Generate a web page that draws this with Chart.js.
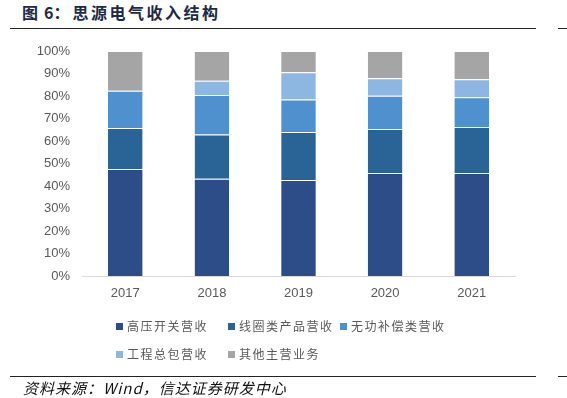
<!DOCTYPE html>
<html>
<head>
<meta charset="utf-8">
<script src="https://cdn.jsdelivr.net/npm/chart.js@4.4.1/dist/chart.umd.min.js"></script>
<style>
  html, body { margin: 0; padding: 0; background: #fff; }
  #wrap { position: relative; width: 567px; height: 398px; overflow: hidden; }
  #chart { position: absolute; left: 0; top: 0; }
  .title { position: absolute; left: 22px; top: 0px; font: bold 16px "Noto Sans CJK SC", sans-serif; color: #1c2a48; letter-spacing: 2.5px; white-space: nowrap; }
  .title span { letter-spacing: 0; margin-right: 3px; }
  .title b { display: inline-block; width: 6px; }
  .rule { position: absolute; height: 1px; background: #222; }
  .source { position: absolute; left: 23px; top: 377px; font: italic 15px "Noto Sans CJK SC", "Liberation Sans", sans-serif; color: #111; letter-spacing: 1px; }
  .legend-item { position: absolute; font: 12px "Noto Sans CJK SC", sans-serif; color: #595959; letter-spacing: 1.5px; white-space: nowrap; line-height: 16px; }
  .legend-item i { display: inline-block; width: 7px; height: 7px; margin-right: 4px; vertical-align: 1px; }
</style>
</head>
<body>
<div id="wrap">
  <div class="title"><span>图<b></b>6：</span>思源电气收入结构</div>
  <div class="rule" style="left:10px; top:28px; width:526px;"></div>
  <div class="rule" style="left:558px; top:28px; width:9px;"></div>
  <canvas id="chart" width="567" height="398"></canvas>
  <div id="legend"></div>
  <div class="rule" style="left:10px; top:376px; width:526px;"></div>
  <div class="rule" style="left:558px; top:376px; width:9px;"></div>
  <div class="source">资料来源：Wind，信达证券研发中心</div>
</div>
<script>
// 年份
const years = ['2017', '2018', '2019', '2020', '2021'];

// 各业务营收占比 (%)
const highVoltage = [47.6, 43.2, 42.7, 45.8, 45.8];   // 高压开关营收
const coilProducts = [18.2, 19.7, 21.3, 19.5, 20.4];  // 线圈类产品营收
const reactiveComp = [16.5, 17.5, 14.4, 14.8, 13.3];  // 无功补偿类营收
const engineering = [0, 6.4, 12.2, 7.8, 7.9];         // 工程总包营收
const otherBiz = [17.7, 13.2, 9.4, 12.1, 12.6];       // 其他主营业务

const yTicks = [0, 10, 20, 30, 40, 50, 60, 70, 80, 90, 100];

const seriesNames = ['高压开关营收', '线圈类产品营收', '无功补偿类营收', '工程总包营收', '其他主营业务'];
const seriesData = [highVoltage, coilProducts, reactiveComp, engineering, otherBiz];
const seriesColors = ['#2c4d87', '#2a6497', '#4f91cf', '#8db7e1', '#a5a5a5'];

const ctx = document.getElementById('chart').getContext('2d');

const chart = new Chart(ctx, {
    type: 'bar',
    data: {
        labels: years,
        datasets: seriesData.map((d, i) => ({
            label: seriesNames[i],
            data: d,
            backgroundColor: seriesColors[i],
            borderColor: 'rgba(255,255,255,0.35)',
            borderWidth: { top: 1 },
            borderSkipped: 'bottom',
            barPercentage: 0.8,
            categoryPercentage: 0.5
        }))
    },
    options: {
        responsive: false,
        animation: false,
        devicePixelRatio: 1,
        layout: { padding: { left: 0, right: 52, top: 51, bottom: 0 } },
        plugins: {
            legend: { display: false },
            tooltip: { enabled: false }
        },
        scales: {
            x: {
                stacked: true,
                grid: { display: false, drawTicks: false },
                border: { display: true, color: '#d9d9d9', width: 1 },
                ticks: {
                    color: '#595959',
                    padding: 10,
                    font: { family: 'Liberation Sans', size: 13 }
                },
                afterFit: scale => { scale.height = 122; }
            },
            y: {
                stacked: true,
                min: 0,
                max: 100,
                grid: { display: false, drawTicks: false },
                border: { display: false },
                afterBuildTicks: scale => { scale.ticks = yTicks.map(v => ({ value: v })); },
                ticks: {
                    color: '#595959',
                    padding: 12,
                    font: { family: 'Liberation Sans', size: 13 },
                    callback: v => v + '%'
                },
                afterFit: scale => { scale.width = 82; }
            }
        }
    }
});

// 图例：两行，按列左对齐
const legendPos = [[116, 318], [228, 318], [340, 318], [116, 346], [228, 346]];
const legendBox = document.getElementById('legend');
chart.data.datasets.forEach((ds, i) => {
    const item = document.createElement('div');
    item.className = 'legend-item';
    item.style.left = legendPos[i][0] + 'px';
    item.style.top = legendPos[i][1] + 'px';
    item.innerHTML = '<i style="background:' + ds.backgroundColor + '"></i>' + ds.label;
    legendBox.appendChild(item);
});
</script>
</body>
</html>
